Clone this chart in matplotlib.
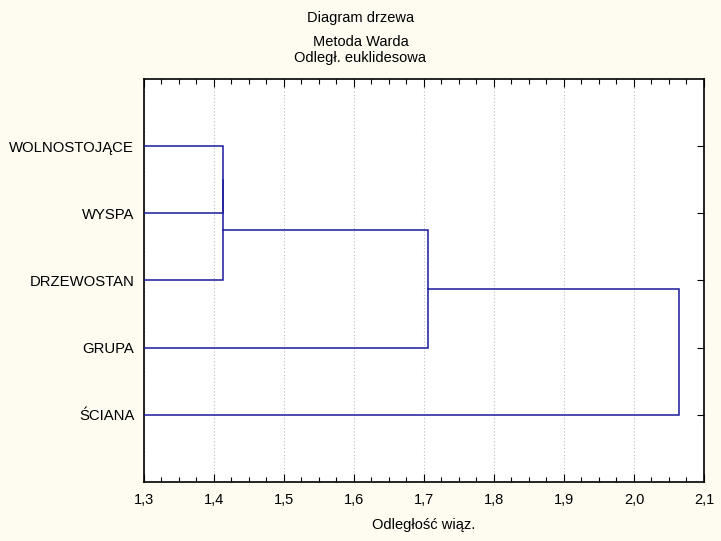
import matplotlib.pyplot as plt
from matplotlib.ticker import MultipleLocator, FuncFormatter

# leaves, top to bottom
labels = ["WOLNOSTOJĄCE", "WYSPA", "DRZEWOSTAN", "GRUPA", "ŚCIANA"]
# merges: (node a, node b, linkage distance); new nodes numbered from len(labels)
merge_a = [0, 5, 6, 7]
merge_b = [1, 2, 3, 4]
merge_h = [1.413, 1.413, 1.706, 2.064]

bg = "#fefbf1"
line_col = "#1a1a9a"
plt.rcParams["font.family"] = ["Liberation Sans", "DejaVu Sans"]

fig = plt.figure(figsize=(7.21, 5.41), dpi=100, facecolor=bg)
ax = fig.add_axes([0.1997, 0.1091, 0.7767, 0.7449])
ax.set_facecolor("white")

xmin, xmax = 1.3, 2.1
n = len(labels)
ypos = {i: n - i for i in range(n)}
xpos = {i: xmin for i in range(n)}

for k, (a, b, h) in enumerate(zip(merge_a, merge_b, merge_h)):
    ax.plot([xpos[a], h, h, xpos[b]], [ypos[a], ypos[a], ypos[b], ypos[b]],
            color=line_col, lw=1.1, zorder=3, solid_joinstyle="miter")
    new = n + k
    ypos[new] = (ypos[a] + ypos[b]) / 2
    xpos[new] = h

ax.set_xlim(xmin, xmax)
ax.set_ylim(0, n + 1)
ax.xaxis.set_major_locator(MultipleLocator(0.1))
ax.xaxis.set_minor_locator(MultipleLocator(0.025))
ax.xaxis.set_major_formatter(FuncFormatter(lambda v, p: f"{v:.1f}".replace(".", ",")))
ax.set_yticks([ypos[i] for i in range(n)])
ax.set_yticklabels(labels)

ax.grid(axis="x", which="major", color="#bdbdbd", ls=(0, (1, 2)), lw=0.8, zorder=0)
ax.tick_params(axis="x", which="major", direction="in", top=True, length=6, width=0.8,
               labelsize=10.5, pad=8, color="black")
ax.tick_params(axis="x", which="minor", direction="in", top=True, length=3.5, width=0.8)
ax.tick_params(axis="y", direction="in", left=False, right=True, length=5, width=0.8,
               labelsize=10.7, pad=7)
for s in ax.spines.values():
    s.set_linewidth(1.2)
    s.set_color("black")

ax.set_xlabel("Odległość wiąz.", fontsize=10.5, labelpad=8)
fig.text(0.5, 1 - 18 / 541, "Diagram drzewa", ha="center", va="center", fontsize=10.5)
fig.text(0.5, 1 - 42 / 541, "Metoda Warda", ha="center", va="center", fontsize=10.5)
fig.text(0.5, 1 - 58 / 541, "Odległ. euklidesowa", ha="center", va="center", fontsize=10.5)

fig.savefig("out.png", dpi=100, facecolor=bg)
